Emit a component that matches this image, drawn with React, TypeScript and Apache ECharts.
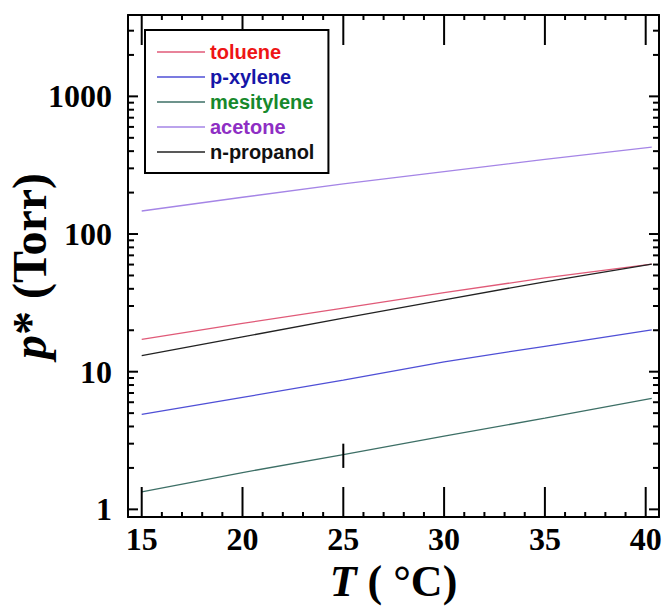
import React, { useEffect, useRef } from "react";
import * as echarts from "echarts";

const temps = [15, 20, 25, 30, 35, 40.3];
const toluene = [17.2, 22.4, 29.0, 37.5, 48.0, 60.5];
const pXylene = [4.9, 6.5, 8.7, 11.8, 15.3, 20.1];
const mesitylene = [1.34, 1.85, 2.5, 3.4, 4.6, 6.4];
const acetone = [147, 185, 231, 284, 348, 428];
const nPropanol = [13.1, 17.9, 24.5, 33.3, 45.0, 60.5];

const xMajorTicks = [15, 20, 25, 30, 35, 40];
const xMinorTicks = [16, 17, 18, 19, 21, 22, 23, 24, 26, 27, 28, 29, 31, 32, 33, 34, 36, 37, 38, 39];
const yMajorTicks = [1, 10, 100, 1000];
const yMinorTicks = [2, 3, 4, 5, 6, 7, 8, 9, 20, 30, 40, 50, 60, 70, 80, 90, 200, 300, 400, 500, 600, 700, 800, 900, 2000, 3000];

const seriesNames = ["toluene", "p-xylene", "mesitylene", "acetone", "n-propanol"];
const seriesValues = [toluene, pXylene, mesitylene, acetone, nPropanol];
const lineColors = ["#e05a78", "#4f4fd6", "#3d6f66", "#a585e6", "#222222"];
const textColors = ["#ee1515", "#1616a8", "#17892c", "#8e2ec4", "#111111"];

const X_MIN = 14.32;
const X_MAX = 40.66;
const Y_MIN = 0.88;
const Y_MAX = 3900;

const W = 664;
const H = 606;
const GRID_LEFT = 128;
const GRID_RIGHT = 5;
const GRID_TOP = 15;
const GRID_BOTTOM = 89;

const X_MAJOR_LEN = 30;
const X_MINOR_LEN = 5;
const Y_MAJOR_LEN = 10;
const Y_MINOR_LEN = 6;

const SERIF = "'Liberation Serif', 'Times New Roman', serif";
const SANS = "'Liberation Sans', Arial, sans-serif";

export default function App() {
  const ref = useRef<HTMLDivElement>(null);
  useEffect(() => {
    if (!ref.current) return;
    const chart = echarts.init(ref.current, null, { renderer: "svg" });

    const axisLine = { show: true, onZero: false, lineStyle: { color: "#000", width: 2 } };
    const titleRich = (size: number) => ({
      i: { fontFamily: SERIF, fontStyle: "italic", fontWeight: "bold", fontSize: size, color: "#000" },
      n: { fontFamily: SERIF, fontWeight: "bold", fontSize: size, color: "#000" },
    });
    const baseX = (pos: string, labels: boolean, extra: any = {}) => ({
      type: "value",
      position: pos,
      min: X_MIN,
      max: X_MAX,
      axisLine: { ...axisLine },
      splitLine: { show: false },
      axisTick: { show: false },
      axisLabel: labels
        ? { show: true, customValues: xMajorTicks, margin: 6, color: "#000", fontFamily: SERIF, fontWeight: "bold", fontSize: 32 }
        : { show: false },
      ...extra,
    });
    const baseY = (pos: string, labels: boolean, extra: any = {}) => ({
      type: "log",
      logBase: 10,
      position: pos,
      min: Y_MIN,
      max: Y_MAX,
      axisLine: { ...axisLine },
      splitLine: { show: false },
      axisTick: { show: false },
      axisLabel: labels
        ? {
            show: true,
            customValues: yMajorTicks,
            margin: 16,
            color: "#000",
            fontFamily: SERIF,
            fontWeight: "bold",
            fontSize: 32,
            formatter: (v: number) => String(Math.round(v)),
          }
        : { show: false },
      ...extra,
    });

    const plotW = W - GRID_LEFT - GRID_RIGHT;
    const plotH = H - GRID_TOP - GRID_BOTTOM;
    const xPerPx = (X_MAX - X_MIN) / plotW;
    const decPerPx = Math.log10(Y_MAX / Y_MIN) / plotH;
    const tickSegments: number[][][] = [];
    const addX = (t: number, len: number) => {
      const f = Math.pow(10, len * decPerPx);
      tickSegments.push([[t, Y_MIN], [t, Y_MIN * f]]);
      tickSegments.push([[t, Y_MAX], [t, Y_MAX / f]]);
    };
    const addY = (v: number, len: number) => {
      const d = len * xPerPx;
      tickSegments.push([[X_MIN, v], [X_MIN + d, v]]);
      tickSegments.push([[X_MAX, v], [X_MAX - d, v]]);
    };
    xMajorTicks.forEach((t) => addX(t, X_MAJOR_LEN));
    xMinorTicks.forEach((t) => addX(t, X_MINOR_LEN));
    yMajorTicks.forEach((v) => addY(v, Y_MAJOR_LEN));
    yMinorTicks.forEach((v) => addY(v, Y_MINOR_LEN));
    // diagnostic mark in the middle of the plot
    tickSegments.push([[25, 2], [25, 3]]);

    const tickSeries = tickSegments.map((seg, k) => ({
      name: "tick" + k,
      type: "line",
      xAxisIndex: 0,
      yAxisIndex: 0,
      symbol: "none",
      showSymbol: false,
      clip: false,
      lineStyle: { color: "#000", width: 2 },
      itemStyle: { color: "#000" },
      data: seg,
    }));

    const option: any = {
      animation: false,
      backgroundColor: "#fff",
      grid: {
        left: GRID_LEFT,
        right: GRID_RIGHT,
        top: GRID_TOP,
        bottom: GRID_BOTTOM,
        containLabel: false,
        outerBoundsMode: "none",
      },
      legend: {
        orient: "vertical",
        left: 145,
        top: 30,
        padding: [12, 14, 11, 12],
        itemGap: 5,
        itemWidth: 48,
        itemHeight: 1.5,
        icon: "rect",
        borderColor: "#000",
        borderWidth: 2,
        backgroundColor: "#fff",
        data: seriesNames.map((n, i) => ({
          name: n,
          textStyle: { color: textColors[i] },
        })),
        textStyle: { fontFamily: SANS, fontWeight: "bold", fontSize: 20, lineHeight: 20 },
      },
      xAxis: [
        baseX("bottom", true, {
          name: "{i|T}{n| ( °C)}",
          nameLocation: "middle",
          nameGap: 42,
          nameMoveOverlap: false,
          nameTextStyle: { rich: titleRich(44) },
        }),
        baseX("top", false),
      ],
      yAxis: [
        baseY("left", true, {
          name: "{i|p}{n|* (Torr)}",
          nameLocation: "middle",
          nameGap: 75,
          nameMoveOverlap: false,
          nameTextStyle: { rich: titleRich(48) },
        }),
        baseY("right", false),
      ],
      series: [
        ...seriesNames.map((n, i) => ({
          name: n,
          type: "line",
          xAxisIndex: 0,
          yAxisIndex: 0,
          symbol: "none",
          showSymbol: false,
          smooth: false,
          lineStyle: { color: lineColors[i], width: 1.3 },
          itemStyle: { color: lineColors[i] },
          data: temps.map((t, k) => [t, seriesValues[i][k]]),
        })),
        ...tickSeries,
      ],
    };
    chart.setOption(option);

    return () => chart.dispose();
  }, []);
  return (
    <div
      ref={ref}
      style={{ position: "fixed", left: 0, top: 0, width: W, height: H, background: "#fff" }}
    />
  );
}
